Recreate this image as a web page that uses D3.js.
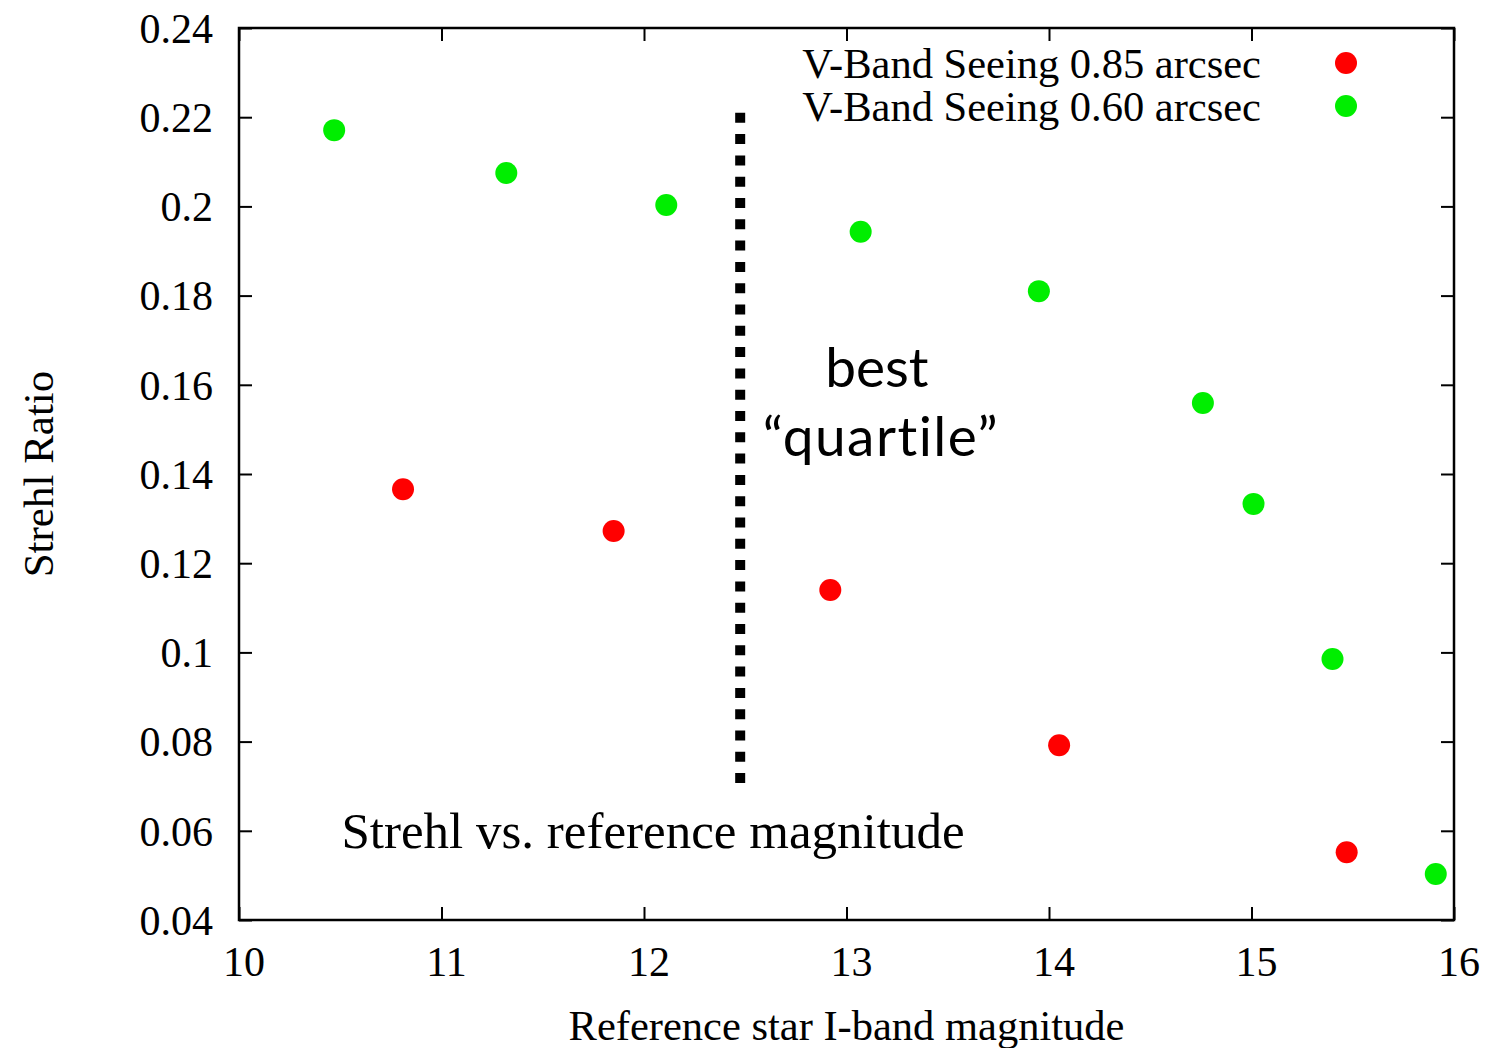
<!DOCTYPE html>
<html lang="en">
<head>
    <meta charset="UTF-8">
    <title>Strehl vs. reference magnitude</title>
    <script src="https://d3js.org/d3.v7.min.js"></script>
    <style>
        body {
            margin: 0;
            background: #fff;
        }
        svg text {
            font-family: "Liberation Serif", "Times New Roman", serif;
            fill: #000;
        }
    </style>
</head>
<body>
    <div id="chart"></div>

    <script>
        // Seeing 0.85 arcsec (red)
        const magRed = [10.81, 11.85, 12.92, 14.05, 15.47];
        const strehlRed = [0.1366, 0.1272, 0.1140, 0.0792, 0.0552];

        // Seeing 0.60 arcsec (green)
        const magGreen = [10.47, 11.32, 12.11, 13.07, 13.95, 14.76, 15.01, 15.40, 15.91];
        const strehlGreen = [0.2171, 0.2075, 0.2003, 0.1943, 0.1810, 0.1559, 0.1333, 0.0985, 0.0503];

        const seriesNames = ["V-Band Seeing 0.85 arcsec", "V-Band Seeing 0.60 arcsec"];
        const seriesColors = ["#ff0000", "#00ee00"];

        const xTicks = [10, 11, 12, 13, 14, 15, 16];
        const yTicks = [0.04, 0.06, 0.08, 0.1, 0.12, 0.14, 0.16, 0.18, 0.2, 0.22, 0.24];

        // "best quartile" cut
        const cutMag = 12.475;
        const cutRange = [0.0707, 0.221];

        const width = 1487, height = 1048;
        const margin = { top: 28, right: 33, bottom: 128, left: 239 };
        const plotW = width - margin.left - margin.right,
              plotH = height - margin.top - margin.bottom;

        const svg = d3.select("#chart")
            .append("svg")
            .attr("width", width)
            .attr("height", height);

        const g = svg.append("g")
            .attr("transform", `translate(${margin.left},${margin.top})`);

        const x = d3.scaleLinear().domain([10, 16]).range([0, plotW]);
        const y = d3.scaleLinear().domain([0.04, 0.24]).range([plotH, 0]);

        const tickLen = 13;
        const fmt = d => String(+d.toFixed(2));

        // bottom + top ticks (inward), mirrored on all four sides
        g.append("g")
            .attr("transform", `translate(0,${plotH})`)
            .call(d3.axisTop(x).tickValues(xTicks).tickSize(tickLen).tickFormat(""))
            .call(a => a.select(".domain").remove());
        g.append("g")
            .call(d3.axisBottom(x).tickValues(xTicks).tickSize(tickLen).tickFormat(""))
            .call(a => a.select(".domain").remove());
        g.append("g")
            .call(d3.axisRight(y).tickValues(yTicks).tickSize(tickLen).tickFormat(""))
            .call(a => a.select(".domain").remove());
        g.append("g")
            .attr("transform", `translate(${plotW},0)`)
            .call(d3.axisLeft(y).tickValues(yTicks).tickSize(tickLen).tickFormat(""))
            .call(a => a.select(".domain").remove());
        g.selectAll(".tick line").attr("stroke", "#000").attr("stroke-width", 2);

        // tick labels
        g.selectAll(".xlab")
            .data(xTicks)
            .enter().append("text")
            .attr("x", d => x(d) + 5)
            .attr("y", plotH + 56)
            .attr("text-anchor", "middle")
            .attr("font-size", 42)
            .text(d => d);

        g.selectAll(".ylab")
            .data(yTicks)
            .enter().append("text")
            .attr("x", -26)
            .attr("y", d => y(d))
            .attr("dy", "0.35em")
            .attr("text-anchor", "end")
            .attr("font-size", 42)
            .text(fmt);

        // frame
        g.append("rect")
            .attr("width", plotW)
            .attr("height", plotH)
            .attr("fill", "none")
            .attr("stroke", "#000")
            .attr("stroke-width", 2.5);

        // axis titles
        svg.append("text")
            .attr("x", margin.left + x(13.0))
            .attr("y", 1040)
            .attr("text-anchor", "middle")
            .attr("font-size", 42.5)
            .text("Reference star I-band magnitude");

        svg.append("text")
            .attr("transform", `translate(53,${margin.top + y(0.14)}) rotate(-90)`)
            .attr("text-anchor", "middle")
            .attr("font-size", 43)
            .text("Strehl Ratio");

        // dotted cut line
        g.append("line")
            .attr("x1", x(cutMag)).attr("x2", x(cutMag))
            .attr("y1", y(cutRange[0])).attr("y2", y(cutRange[1]))
            .attr("stroke", "#000")
            .attr("stroke-width", 10)
            .attr("stroke-dasharray", "10,11.3");

        // annotations
        g.append("text")
            .attr("x", x(13.15))
            .attr("y", y(0.1595))
            .attr("text-anchor", "middle")
            .attr("font-size", 55)
            .style("font-family", "Lato, 'Open Sans', sans-serif")
            .text("best");
        g.append("text")
            .attr("x", x(13.17))
            .attr("y", y(0.144))
            .attr("text-anchor", "middle")
            .attr("font-size", 55)
            .attr("letter-spacing", 1.5)
            .style("font-family", "Lato, 'Open Sans', sans-serif")
            .text("\u201Cquartile\u201D");

        g.append("text")
            .attr("x", x(10.506))
            .attr("y", y(0.0562))
            .attr("font-size", 51)
            .text("Strehl vs. reference magnitude");

        // points
        const redPts = magRed.map((m, i) => ({ m: m, s: strehlRed[i] }));
        const greenPts = magGreen.map((m, i) => ({ m: m, s: strehlGreen[i] }));

        g.selectAll(".red")
            .data(redPts)
            .enter().append("circle")
            .attr("cx", d => x(d.m))
            .attr("cy", d => y(d.s))
            .attr("r", 11)
            .attr("fill", seriesColors[0]);

        g.selectAll(".green")
            .data(greenPts)
            .enter().append("circle")
            .attr("cx", d => x(d.m))
            .attr("cy", d => y(d.s))
            .attr("r", 11)
            .attr("fill", seriesColors[1]);

        // legend (top right, inside the frame)
        const legend = g.append("g")
            .attr("transform", "translate(0,35)");
        seriesNames.forEach((name, i) => {
            legend.append("text")
                .attr("x", 1022)
                .attr("y", i * 43)
                .attr("dy", "0.35em")
                .attr("text-anchor", "end")
                .attr("font-size", 42.5)
                .text(name);
            legend.append("circle")
                .attr("cx", 1107)
                .attr("cy", i * 43)
                .attr("r", 11)
                .attr("fill", seriesColors[i]);
        });
    </script>
</body>
</html>
